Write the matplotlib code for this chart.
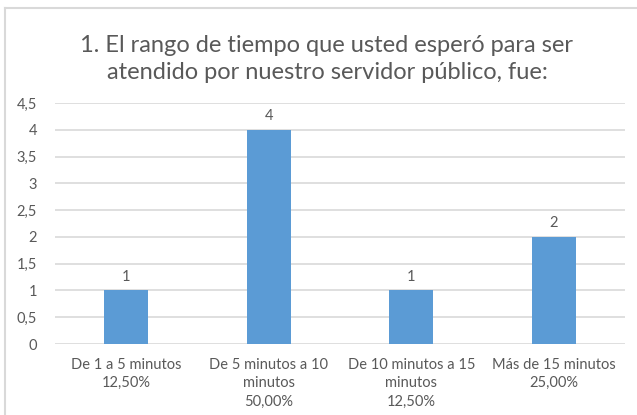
import matplotlib.pyplot as plt
from matplotlib.lines import Line2D
from matplotlib.ticker import FuncFormatter

categories = ["De 1 a 5 minutos\n12,50%",
              "De 5 minutos a 10\nminutos\n50,00%",
              "De 10 minutos a 15\nminutos\n12,50%",
              "Más de 15 minutos\n25,00%"]
values = [1, 4, 1, 2]
yticks = [0, 0.5, 1, 1.5, 2, 2.5, 3, 3.5, 4, 4.5]
title = "1. El rango de tiempo que usted esperó para ser\natendido por nuestro servidor público, fue:"

plt.rcParams['font.family'] = ['Lato', 'DejaVu Sans']
text_color = '#595959'
W, H = 637, 415

fig = plt.figure(figsize=(6.37, 4.15), dpi=100)
ax = fig.add_axes([55 / W, 1 - 344 / H, 570 / W, 241 / H])

x = range(len(values))
bars = ax.bar(x, values, width=0.31, color='#5B9BD5', zorder=3)
for xi, v in zip(x, values):
    ax.text(xi, v + 0.12, str(v), ha='center', va='bottom',
            fontsize=10.5, color=text_color)

ax.set_xlim(-0.5, len(values) - 0.5)
ax.set_ylim(0, 4.5)
ax.set_yticks(yticks)
ax.yaxis.set_major_formatter(FuncFormatter(lambda v, p: f"{v:g}".replace('.', ',')))
ax.set_xticks(list(x))
ax.set_xticklabels(categories, linespacing=1.4)
ax.tick_params(axis='both', length=0, labelsize=10.5, colors=text_color)
ax.tick_params(axis='y', pad=13)
ax.tick_params(axis='x', pad=10)
ax.grid(axis='y', color='#D9D9D9', linewidth=1.2, zorder=0)
for s in ax.spines.values():
    s.set_visible(False)

fig.text(327 / W, 1 - 59 / H, title, ha='center', va='center',
         fontsize=17, color=text_color, linespacing=1.35)

# outer chart frame (only left and top edges visible)
fig.add_artist(Line2D([5 / W, 5 / W], [0, 1 - 8 / H], transform=fig.transFigure,
                      color='#D9D9D9', linewidth=1.5))
fig.add_artist(Line2D([5 / W, 1], [1 - 8 / H, 1 - 8 / H], transform=fig.transFigure,
                      color='#D9D9D9', linewidth=1.5))

fig.savefig("out.png", dpi=100)
